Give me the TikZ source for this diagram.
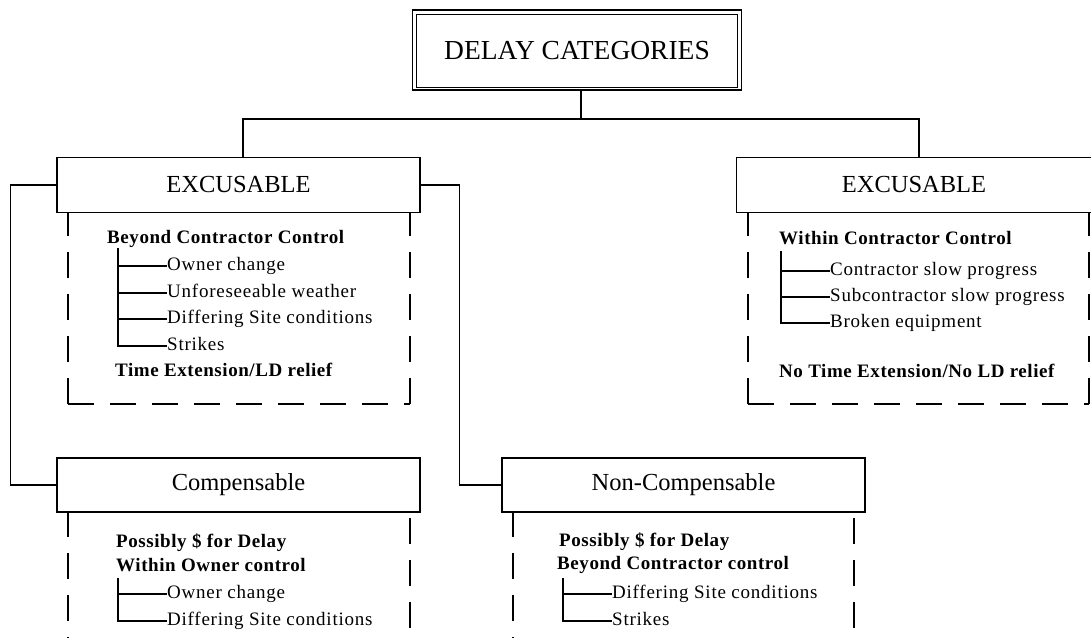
\documentclass[tikz,border=0pt]{standalone}
\usepackage{fontspec}
\setmainfont{Liberation Serif}
\newfontfamily\itemfont[LetterSpace=4]{Liberation Serif}
\newfontfamily\bitemfont[LetterSpace=3]{Liberation Serif}
\begin{document}
\begin{tikzpicture}[x=1pt,y=-1pt,
  box/.style={draw, line width=1.3pt, inner sep=0, font=\fontsize{24.5}{28}\selectfont},
  dbox/.style={line width=1.3pt, dash pattern=on 26pt off 16pt},
  item/.style={inner sep=0, anchor=west, text height=13pt, text depth=4pt, font=\itemfont\fontsize{19}{22}\selectfont},
  head/.style={inner sep=0, anchor=west, text height=13pt, text depth=4pt, font=\bitemfont\bfseries\fontsize{19}{22}\selectfont},
  conn/.style={line width=1.3pt}]
\useasboundingbox (0,0) rectangle (1091,637);
% title
\node[draw, line width=1.2pt, minimum width=329pt, minimum height=80pt, inner sep=0] (titleo) at (577,50) {};
\node[draw, line width=1.2pt, minimum width=321pt, minimum height=73pt, inner sep=0, font=\fontsize{27.5}{30}\selectfont] (title) at (577,51) {DELAY CATEGORIES};
% boxes
\node[box, minimum width=363pt, minimum height=55pt] (ex1) at (238.5,185) {EXCUSABLE};
\node[box, minimum width=355pt, minimum height=55pt] (ex2) at (914,185) {EXCUSABLE};
\node[box, minimum width=363pt, minimum height=54pt] (comp) at (238.5,485) {Compensable};
\node[box, minimum width=363pt, minimum height=54pt] (ncomp) at (683.5,485) {Non-Compensable};
% connectors
\coordinate (tj) at (581,119);
\coordinate (lj) at (243,119);
\coordinate (rj) at (919,119);
\draw[conn] (titleo.south -| tj) -- (tj);
\draw[conn] (ex1.north -| lj) -- (lj) -- (rj) -- (ex2.north -| rj);
\draw[conn] (ex1.west) -- ++(-46,0) |- (comp.west);
\draw[conn] (ex1.east) -- ++(39,0) |- (ncomp.west);
% dashed frames
\draw[dbox] (68,404) -- (68,212);
\draw[dbox] (68,404) -- (410,404);
\draw[dbox] (410,404) -- (410,212);
\draw[dbox] (748,404) -- (748,212);
\draw[dbox] (748,404) -- (1089,404);
\draw[dbox] (1089,404) -- (1089,212);
\draw[dbox] (68,511) -- (68,640);
\draw[dbox] (410,518) -- (410,640);
\draw[dbox] (513,511) -- (513,640);
\draw[dbox] (854,518) -- (854,640);
% left excusable content
\node[head] (h1) at (107,239) {Beyond Contractor Control};
\node[item] (a1) at (167,266) {Owner change};
\node[item] (a2) at (167,293) {Unforeseeable weather};
\node[item] (a3) at (167,319) {Differing Site conditions};
\node[item] (a4) at (167,346) {Strikes};
\node[head] (f1) at (115,372) {Time Extension/LD relief};
\coordinate (t1) at (118,248);
\draw[conn] (t1) |- (a4.west);
\foreach \n in {a1,a2,a3} \draw[conn] (t1 |- \n.west) -- (\n.west);
% right excusable content
\node[head] (h2) at (779,240) {Within Contractor Control};
\node[item] (b1) at (830,271) {Contractor slow progress};
\node[item] (b2) at (830,297) {Subcontractor slow progress};
\node[item] (b3) at (830,323) {Broken equipment};
\node[head] (f2) at (779,373) {No Time Extension/No LD relief};
\coordinate (t2) at (781,251);
\draw[conn] (t2) |- (b3.west);
\foreach \n in {b1,b2} \draw[conn] (t2 |- \n.west) -- (\n.west);
% compensable content
\node[head] (h3) at (116,543) {Possibly \$ for Delay};
\node[head] (h4) at (116,567) {Within Owner control};
\node[item] (c1) at (167,594) {Owner change};
\node[item] (c2) at (167,621) {Differing Site conditions};
\coordinate (t3) at (118,578);
\draw[conn] (t3) |- (c2.west);
\draw[conn] (t3 |- c1.west) -- (c1.west);
% non-compensable content
\node[head] (h5) at (559,542) {Possibly \$ for Delay};
\node[head] (h6) at (557,565) {Beyond Contractor control};
\node[item] (d1) at (612,594) {Differing Site conditions};
\node[item] (d2) at (612,621) {Strikes};
\coordinate (t4) at (563,578);
\draw[conn] (t4) |- (d2.west);
\draw[conn] (t4 |- d1.west) -- (d1.west);
\end{tikzpicture}
\end{document}
